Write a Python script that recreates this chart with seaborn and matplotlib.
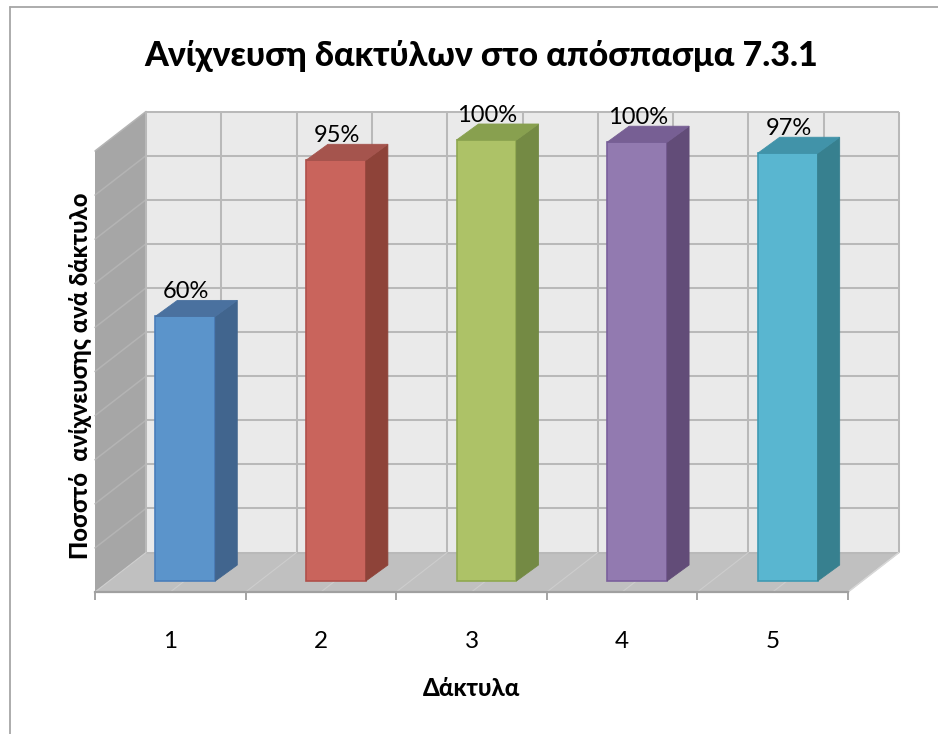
import numpy as np
import pandas as pd
import seaborn as sns
import matplotlib
matplotlib.use("Agg")
import matplotlib.pyplot as plt
from matplotlib.lines import Line2D
from matplotlib.patches import Polygon

fingers = ["1", "2", "3", "4", "5"]
detection = [0.60, 0.954, 1.00, 0.995, 0.97]
value_labels = ["60%", "95%", "100%", "100%", "97%"]

front_colors = ["#5B94CB", "#C9645C", "#ADC267", "#927AB0", "#59B6D0"]
side_colors = ["#41658E", "#8E4339", "#748A44", "#624C78", "#37808F"]
top_colors = ["#4A719F", "#A5544D", "#88A04F", "#775F94", "#4193A9"]
edge_colors = ["#4A7EBB", "#B0504A", "#8FA850", "#7A5F9C", "#3F9AB3"]

title_text = "Ανίχνευση δακτύλων στο απόσπασμα 7.3.1"
ylabel_text = "Ποσστό  ανίχνευσης ανά δάκτυλο"
xlabel_text = "Δάκτυλα"

W, H = 938, 734
sns.set_theme(style="white")
plt.rcParams["font.family"] = ["Lato", "Open Sans", "DejaVu Sans"]

fig = plt.figure(figsize=(W / 100, H / 100), dpi=100)
L, R, B, T = 95, 848, 592, 151
ax = fig.add_axes([L / W, 1 - B / H, (R - L) / W, (B - T) / H])

df = pd.DataFrame({"finger": fingers, "detection": detection})
sns.barplot(data=df, x="finger", y="detection", hue="finger", palette=front_colors,
            legend=False, width=0.398, saturation=1, ax=ax, zorder=4)
ax.set_xlim(-0.5, 4.5)
ax.set_ylim(0, 1)

px = (R - L) / 5   # pixels per category
py = B - T         # pixels per unit of value
wall_dx, wall_dy = 51 / px, 39.5 / py
bar_dx, bar_dy = 22 / px, 16 / py
bar_shift_x, bar_shift_y = 15 / px, 11 / py

grid_color = "#B9B9B9"
lw = 1.45
levels = np.arange(0, 1.01, 0.1)
verticals = np.arange(-0.5, 4.51, 0.5)

# back wall
ax.add_patch(Polygon([(-0.5 + wall_dx, wall_dy), (4.5 + wall_dx, wall_dy),
                      (4.5 + wall_dx, 1 + wall_dy), (-0.5 + wall_dx, 1 + wall_dy)],
                     fc="#EAEAEA", ec="none", clip_on=False, zorder=1))
# left wall
ax.add_patch(Polygon([(-0.5, 0), (-0.5 + wall_dx, wall_dy), (-0.5 + wall_dx, 1 + wall_dy), (-0.5, 1)],
                     fc="#A6A6A6", ec="none", clip_on=False, zorder=1))
# floor
ax.add_patch(Polygon([(-0.5, 0), (4.5, 0), (4.5 + wall_dx, wall_dy), (-0.5 + wall_dx, wall_dy)],
                     fc="#C0C0C0", ec="none", clip_on=False, zorder=1))
for lev in levels:
    ax.plot([-0.5 + wall_dx, 4.5 + wall_dx], [lev + wall_dy] * 2, color=grid_color, lw=lw,
            clip_on=False, zorder=2, solid_capstyle="butt")
    if lev > 0:
        ax.plot([-0.5, -0.5 + wall_dx], [lev, lev + wall_dy], color="#B4B4B4", lw=1.1,
                clip_on=False, zorder=2)
for xv in verticals:
    ax.plot([xv + wall_dx] * 2, [wall_dy, 1 + wall_dy], color=grid_color, lw=lw,
            clip_on=False, zorder=2, solid_capstyle="butt")
    ax.plot([xv, xv + wall_dx], [0, wall_dy], color="#CDCDCD", lw=0.8, clip_on=False, zorder=2)
ax.plot([4.5, 4.5 + wall_dx], [0, wall_dy], color="#D8D8D8", lw=1, clip_on=False, zorder=2)

# bars: the front faces come from seaborn, sides and tops extend them in depth
for i, bar in enumerate(ax.patches[:len(detection)]):
    bar.set_x(bar.get_x() + bar_shift_x)
    bar.set_y(bar_shift_y)
    bar.set_edgecolor(edge_colors[i])
    bar.set_linewidth(1.2)
    bar.set_clip_on(False)
    x0, x1 = bar.get_x(), bar.get_x() + bar.get_width()
    y0, y1 = bar.get_y(), bar.get_y() + bar.get_height()
    ax.add_patch(Polygon([(x1, y0), (x1 + bar_dx, y0 + bar_dy), (x1 + bar_dx, y1 + bar_dy), (x1, y1)],
                         fc=side_colors[i], ec=side_colors[i], lw=0.6, clip_on=False, zorder=4))
    ax.add_patch(Polygon([(x0, y1), (x1, y1), (x1 + bar_dx, y1 + bar_dy), (x0 + bar_dx, y1 + bar_dy)],
                         fc=top_colors[i], ec=top_colors[i], lw=0.6, clip_on=False, zorder=4))
    ax.text((x0 + x1) / 2 + 1 / px, y1 + 24.5 / py, value_labels[i], ha="center", va="center",
            fontsize=17, color="black", zorder=6, clip_on=False)

# axes furniture
for side in ["left", "right", "top"]:
    ax.spines[side].set_visible(False)
ax.spines["bottom"].set_color("#A0A0A0")
ax.spines["bottom"].set_linewidth(1.6)
ax.spines["bottom"].set_zorder(3)
ax.set_yticks([])
ax.set_xticks(verticals[::2], minor=True)
ax.tick_params(axis="x", which="minor", length=6, width=1.1, color="#8C8C8C", bottom=True)
ax.tick_params(axis="x", which="major", length=0, pad=28, labelsize=17.5, labelcolor="black")

ax.set_title(title_text, fontsize=24.5, fontweight=900, color="black", pad=0,
             x=(481 - L) / (R - L), y=(B - 56) / py, va="center", ha="center")
ax.set_xlabel(xlabel_text, fontsize=17.2, fontweight=900, color="black")
ax.xaxis.set_label_coords((472 - L) / (R - L), (B - 688) / py)
ax.xaxis.label.set_va("center")
ax.set_ylabel(ylabel_text, fontsize=17.1, fontweight=900, color="black")
ax.yaxis.set_label_coords((80 - L) / (R - L), (B - 376) / py)
ax.yaxis.label.set_va("center")

# outer chart frame (left and top only are visible)
frame = "#A6A6A6"
fig.add_artist(Line2D([9.5 / W, 9.5 / W], [0, 1 - 6.5 / H], color=frame, lw=1.3, transform=fig.transFigure))
fig.add_artist(Line2D([9.5 / W, 1], [1 - 6.5 / H] * 2, color=frame, lw=1.3, transform=fig.transFigure))

fig.savefig("out.png", dpi=100)
